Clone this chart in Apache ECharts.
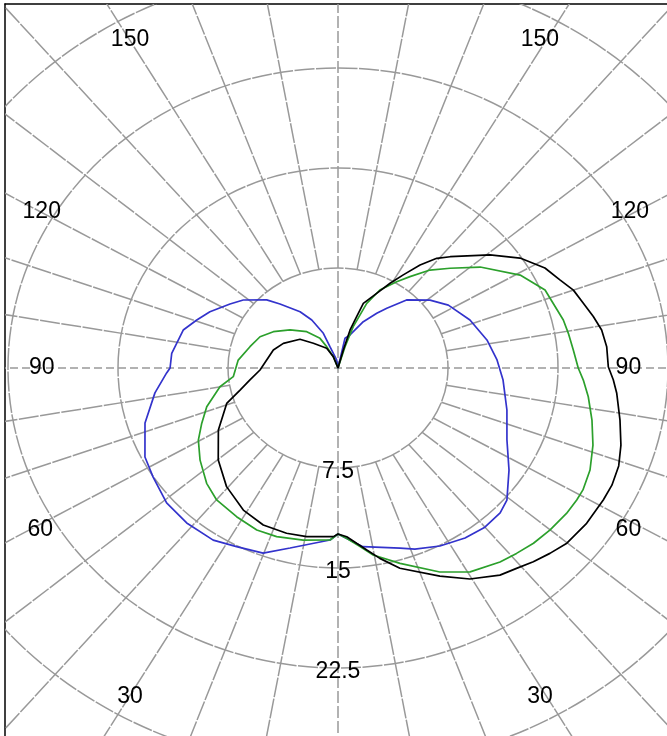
<!DOCTYPE html>
<html><head><meta charset="utf-8">
<script src="https://cdn.jsdelivr.net/npm/echarts@6.0.0/dist/echarts.min.js"></script>
<style>html,body{margin:0;padding:0;background:#fff}#c{width:667px;height:736px}</style>
</head><body><div id="c"></div>
<script>
// ---- data: [angle from nadir (deg), intensity] ----
const ringValues = [7.5, 15, 22.5, 30, 37.5];
const spokeAngles = [10,20,30,40,50,60,70,80,100,110,120,130,140,150,160,170];
const radialLabels = ['7.5', '15', '22.5'];
const angleLabels = ['30', '60', '90', '120', '150'];

const blueLeft = [[180,0],[171,0.61],[161,1.69],[159,2.79],[153.6,4.02],[148.5,4.95],[140.5,6.22],[136.4,7.05],[128.3,8.23],[123.1,8.79],[115.8,9.70],[110.5,10.28],[105.1,10.93],[95.5,11.39],[90,11.45],[88.2,11.69],[81.5,12.62],[72.6,13.79],[63.1,14.76],[57,15.03],[49.1,15.46],[41.6,15.54],[33.4,15.46],[27.3,15.08],[20.2,14.79],[13.6,13.89],[2.4,12.91],[0,12.45]];
const blueRight = [[0,12.45],[7.2,13.51],[17.4,14.15],[21.1,14.56],[27.5,15.05],[34.2,15.41],[40,15.58],[45.5,15.5],[49.3,15.19],[56.7,13.95],[64.9,12.72],[74.7,11.94],[85.4,11.29],[93.2,10.86],[101.7,10.37],[111.8,9.69],[122.1,8.88],[129.1,8.08],[137.5,6.92],[143.4,5.58],[147.2,4.88],[153.6,3.88],[161.7,2.61],[167.9,2.28],[180,0]];
const greenLeft = [[180,0],[159.4,0.91],[154.3,1.78],[151.1,2.54],[142,3.46],[131.1,4.34],[121.7,5.18],[113.8,5.81],[104.9,6.21],[95,6.83],[84.8,7.17],[80.1,8.17],[72,9.41],[65.9,10.18],[60.4,10.95],[53.7,11.67],[46,12.45],[39.9,12.9],[31.8,13.12],[24.5,13.35],[18.3,13.32],[10.4,13.12],[2.4,12.91],[0,12.45]];
const greenRight = [[0,12.45],[2.6,12.79],[6.4,13.48],[9.7,14.23],[16.1,15.25],[24.4,16.8],[30.5,17.75],[37.2,18.27],[41.2,18.48],[45.4,18.72],[50,18.88],[55,19.02],[58.7,19.05],[61.3,19.04],[66,18.81],[71.6,18.32],[77.3,17.75],[82.8,17.2],[86.9,16.75],[90,16.38],[94.8,16.1],[99.4,15.92],[103.2,15.78],[112.5,15.28],[119.3,14.24],[128,12.3],[134.4,10.69],[139.5,9.66],[144.4,8.43],[148.3,7.61],[154,6.51],[158,5.23],[161.5,3.27],[163.3,1.67],[180,0]];
const blackLeft = [[180,0],[159.4,0.91],[152.5,1.67],[137.8,2.5],[129.7,3.37],[116.4,4.16],[107,4.61],[97,4.9],[88.4,5.32],[81.5,6.07],[76.1,6.88],[70.7,8.04],[60.3,9.39],[49.8,10.69],[40.5,11.7],[31.2,12.46],[23.4,12.83],[15.8,12.88],[9.6,12.83],[1.4,12.65],[0,12.45]];
const blackRight = [[0,12.45],[2.7,12.67],[5.5,13.21],[8.2,13.79],[11.3,14.56],[15.7,15.6],[24,17.08],[29.6,18.2],[35.4,19.06],[39,19.34],[42.5,19.71],[46.1,20.05],[49.9,20.4],[55.5,20.57],[61.3,20.62],[64.8,20.64],[69,20.5],[73.3,20.14],[78.5,19.62],[84.3,19.1],[87.3,18.79],[90.3,18.43],[95,18.39],[99,18.2],[102.5,17.83],[106.2,17.42],[110,17.08],[113.6,16.51],[118,15.98],[123.6,14.9],[129.3,13.39],[137.5,11.32],[140.7,10.63],[144.1,9.54],[147.5,8.28],[150.8,7.28],[154.8,6.19],[160.4,5.15],[161.7,4.05],[163.9,2.97],[165,1.4],[180,0]];

// ---- layout ----
const W = 667, H = 736, CX = 338, CY = 368, GL = 5, GT = 4;
const PXX = 110 / 7.5, PXY = 100 / 7.5;
const D = Math.PI / 180;
const GRID = '#999999';
const GRID_DASH = [20, 1.5];

function polarXY(side, g, v) { return [side * v * Math.sin(g * D), -v * Math.cos(g * D)]; }
function curve(left, right) {
  return left.map(p => polarXY(-1, p[0], p[1])).concat(right.map(p => polarXY(1, p[0], p[1])));
}

const angleLabelPos = [
  [-14.18, -24.68], [-20.3, -12.15], [-20.2, 0], [-20.2, 11.72], [-14.18, 24.6],
  [13.77, -24.68], [19.8, -12.15], [19.8, 0], [19.9, 11.72], [13.77, 24.6]
];
const angleLabelText = angleLabels.concat(angleLabels);

const chart = echarts.init(document.getElementById('c'), null, { renderer: 'canvas' });
const axisCommon = { type: 'value', axisTick: { show: false }, axisLabel: { show: false }, splitLine: { show: false } };
const font = '23px "Liberation Sans", Arial, sans-serif';

chart.setOption({
  animation: false,
  grid: { left: GL, top: GT, right: 0, bottom: 0 },
  xAxis: Object.assign({}, axisCommon, { min: -(CX - GL) / PXX, max: (W - CX) / PXX, position: 'top',
    axisLine: { show: true, onZero: false, lineStyle: { color: '#000', width: 1.5 } } }),
  yAxis: Object.assign({}, axisCommon, { min: -(H - CY) / PXY, max: (CY - GT) / PXY, position: 'left',
    axisLine: { show: true, onZero: false, lineStyle: { color: '#000', width: 1.5 } } }),
  series: [
    { type: 'custom', clip: true, silent: true, z: 1, data: ringValues.map(r => [r]),
      renderItem: (p, api) => {
        const r = api.value(0), c = api.coord([0, 0]), s = api.size([r, r]);
        return { type: 'ellipse', shape: { cx: c[0], cy: c[1], rx: s[0], ry: s[1] },
          style: { fill: 'none', stroke: GRID, lineWidth: 1.5, lineDash: GRID_DASH } };
      } },
    { type: 'custom', clip: true, silent: true, z: 1,
      data: spokeAngles.map(a => [a, -1]).concat(spokeAngles.map(a => [a, 1])),
      renderItem: (p, api) => {
        const g = api.value(0), side = api.value(1);
        const a = api.coord(polarXY(side, g, ringValues[0])), b = api.coord(polarXY(side, g, 60));
        return { type: 'line', shape: { x1: a[0], y1: a[1], x2: b[0], y2: b[1] },
          style: { stroke: GRID, lineWidth: 1.5, lineDash: GRID_DASH } };
      } },
    { type: 'custom', clip: true, silent: true, z: 2, data: [[0], [90]],
      renderItem: (p, api) => {
        const g = api.value(0);
        const a = g === 0 ? api.coord([0, -60]) : api.coord([-60, 0]);
        const b = g === 0 ? api.coord([0, 60]) : api.coord([60, 0]);
        return { type: 'line', shape: { x1: a[0], y1: a[1], x2: b[0], y2: b[1] },
          style: { stroke: GRID, lineWidth: 1.5, lineDash: g === 0 ? [12, 3] : [8, 4] } };
      } },
    { type: 'line', data: curve(blueLeft, blueRight), showSymbol: false, symbol: 'none', z: 3,
      lineStyle: { color: '#3333cc', width: 1.7 } },
    { type: 'line', data: curve(greenLeft, greenRight), showSymbol: false, symbol: 'none', z: 3,
      lineStyle: { color: '#2ca02c', width: 1.7 } },
    { type: 'line', data: curve(blackLeft, blackRight), showSymbol: false, symbol: 'none', z: 3,
      lineStyle: { color: '#000000', width: 1.7 } },
    { type: 'custom', silent: true, z: 5, data: radialLabels.map((t, i) => [0, -ringValues[i]]),
      renderItem: (p, api) => {
        const c = api.coord([api.value(0), api.value(1)]);
        return { type: 'text', x: c[0], y: c[1] + 4,
          style: { text: radialLabels[p.dataIndex], font: font, fill: '#000', align: 'center', verticalAlign: 'middle' } };
      } },
    { type: 'custom', silent: true, z: 5, data: angleLabelPos,
      renderItem: (p, api) => {
        const c = api.coord([api.value(0), api.value(1)]);
        return { type: 'text', x: c[0], y: c[1],
          style: { text: angleLabelText[p.dataIndex], font: font, fill: '#000', align: 'center', verticalAlign: 'middle' } };
      } }
  ]
});
</script></body></html>
